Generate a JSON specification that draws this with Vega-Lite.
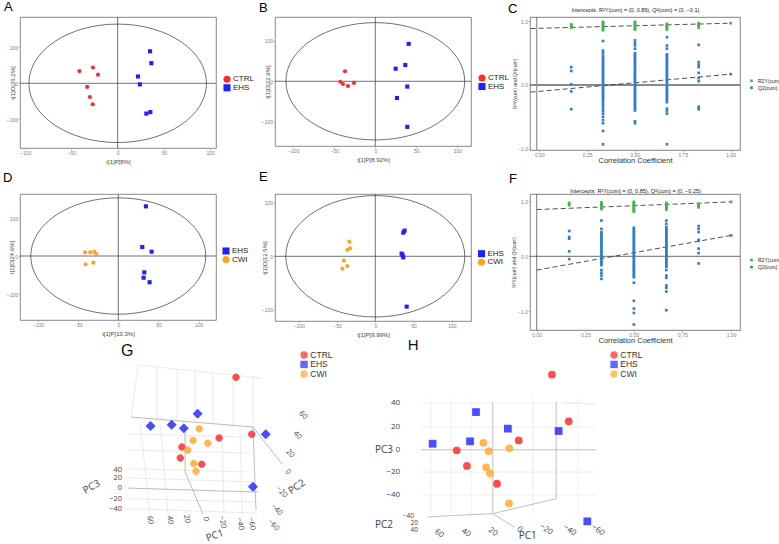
{
"$schema":"https://vega.github.io/schema/vega-lite/v6.json",
"padding":{"left":2,"top":0,"right":0,"bottom":0},
"background":"white",
"config":{"font":"Liberation Sans","view":{"stroke":null},
 "axis":{"grid":false,"domain":false,"tickSize":2,"tickWidth":0.6,"tickColor":"#999","labelFontSize":5,"labelColor":"#808080","labelPadding":0.5,"titleFontSize":6,"titleColor":"#444","titleFontWeight":"normal","labelOverlap":false},
 "legend":{"labelColor":"#222"}},
"columns":3,"align":"none","bounds":"flush","spacing":{"row":44,"column":59},
"resolve":{"scale":{"color":"independent","shape":"independent"},"legend":{"color":"independent","shape":"independent"}},
"concat":[
   {"width":196,"height":131,"view":{"stroke":"#6b6b6b","strokeWidth":0.8},
    "title":{"text":"A","anchor":"start","frame":"group","dx":-16,"offset":2.3,"fontSize":13,"fontWeight":"normal","color":"#000"},
    "layer":[
     {"data":{"values":[{"p":0}]},"mark":{"type":"rule","color":"#333","strokeWidth":0.7},"encoding":{"x":{"field":"p","type":"quantitative","title":"t[1]P[8%]","scale":{"domain":[-105.6,106.3],"nice":false,"zero":false}}}},
     {"data":{"values":[{"o":0}]},"mark":{"type":"rule","color":"#333","strokeWidth":0.7},"encoding":{"y":{"field":"o","type":"quantitative","title":"t[1]O[26.2%]","scale":{"domain":[-179.7,184.2],"nice":false,"zero":false}}}},
     {"data":{"values":[{"p":0,"o":0}]},"mark":{"type":"point","shape":"M-1,0A1,0.667,0,1,0,1,0A1,0.667,0,1,0,-1,0Z","size":31540,"filled":false,"stroke":"#333","strokeWidth":0.7,"opacity":1},"encoding":{"x":{"field":"p","type":"quantitative","title":"t[1]P[8%]"},"y":{"field":"o","type":"quantitative","title":"t[1]O[26.2%]"}}},
     {"data":{"values":[{"g":"CTRL","p":-41.4,"o":34},{"g":"CTRL","p":-26.7,"o":44},{"g":"CTRL","p":-21.3,"o":24},{"g":"CTRL","p":-33,"o":-10},{"g":"CTRL","p":-30,"o":-38},{"g":"CTRL","p":-27,"o":-58},{"g":"EHS","p":35,"o":89},{"g":"EHS","p":36.4,"o":56},{"g":"EHS","p":22,"o":19},{"g":"EHS","p":24,"o":-3},{"g":"EHS","p":31,"o":-84},{"g":"EHS","p":35.3,"o":-80}]},
      "mark":{"type":"point","filled":true,"size":17,"opacity":1},
      "encoding":{"x":{"field":"p","type":"quantitative","title":"t[1]P[8%]","axis":{"values":[-100,-50,0,50,100],"titleY":13.5,"titleBaseline":"middle"}},
       "y":{"field":"o","type":"quantitative","title":"t[1]O[26.2%]","axis":{"values":[-100,0,100],"titleX":-8,"titleBaseline":"middle"}},
       "color":{"field":"g","type":"nominal","scale":{"domain":["CTRL","EHS"],"range":["#FF2A2A","#1F1FFF"]},"legend":{"title":null,"orient":"none","legendX":203,"legendY":58.3,"symbolSize":50,"labelFontSize":8,"labelOffset":2,"rowPadding":0.5,"padding":0,"symbolStrokeWidth":0}},
       "shape":{"field":"g","type":"nominal","scale":{"domain":["CTRL","EHS"],"range":["circle","square"]}}}}
    ]},
   {"width":196,"height":129,"view":{"stroke":"#6b6b6b","strokeWidth":0.8},
    "title":{"text":"B","anchor":"start","frame":"group","dx":-16,"offset":2,"fontSize":13,"fontWeight":"normal","color":"#000"},
    "layer":[
     {"data":{"values":[{"p":0}]},"mark":{"type":"rule","color":"#333","strokeWidth":0.7},"encoding":{"x":{"field":"p","type":"quantitative","title":"t[1]P[8.92%]","scale":{"domain":[-122.3,116.7],"nice":false,"zero":false}}}},
     {"data":{"values":[{"o":0}]},"mark":{"type":"rule","color":"#333","strokeWidth":0.7},"encoding":{"y":{"field":"o","type":"quantitative","title":"t[1]O[22.9%]","scale":{"domain":[-159,158],"nice":false,"zero":false}}}},
     {"data":{"values":[{"p":0,"o":0}]},"mark":{"type":"point","shape":"M-1,0A1,0.656,0,1,0,1,0A1,0.656,0,1,0,-1,0Z","size":31970,"filled":false,"stroke":"#333","strokeWidth":0.7,"opacity":1},"encoding":{"x":{"field":"p","type":"quantitative","title":"t[1]P[8.92%]"},"y":{"field":"o","type":"quantitative","title":"t[1]O[22.9%]"}}},
     {"data":{"values":[{"g":"CTRL","p":-37,"o":24.6},{"g":"CTRL","p":-42.7,"o":-1},{"g":"CTRL","p":-39.4,"o":-6.6},{"g":"CTRL","p":-33.3,"o":-11.5},{"g":"CTRL","p":-26,"o":-4},{"g":"EHS","p":40.7,"o":92},{"g":"EHS","p":36.6,"o":40},{"g":"EHS","p":24.8,"o":31},{"g":"EHS","p":39,"o":-13},{"g":"EHS","p":26.4,"o":-41},{"g":"EHS","p":39,"o":-112}]},
      "mark":{"type":"point","filled":true,"size":17,"opacity":1},
      "encoding":{"x":{"field":"p","type":"quantitative","title":"t[1]P[8.92%]","axis":{"values":[-100,-50,0,50,100],"titleY":13.3,"titleBaseline":"middle"}},
       "y":{"field":"o","type":"quantitative","title":"t[1]O[22.9%]","axis":{"values":[-100,0,100],"titleX":-8,"titleBaseline":"middle"}},
       "color":{"field":"g","type":"nominal","scale":{"domain":["CTRL","EHS"],"range":["#FF2A2A","#1F1FFF"]},"legend":{"title":null,"orient":"none","legendX":203,"legendY":57,"symbolSize":50,"labelFontSize":8,"labelOffset":2,"rowPadding":0.5,"padding":0,"symbolStrokeWidth":0}},
       "shape":{"field":"g","type":"nominal","scale":{"domain":["CTRL","EHS"],"range":["circle","square"]}}}}
    ]},
  {"width":210,"height":133,"view":{"stroke":"#9a9a9a","strokeWidth":1.2},
   "title":{"text":"C","anchor":"start","frame":"group","dx":-22,"offset":-8.75,"fontSize":13,"fontWeight":"normal","color":"#000"},
   "resolve":{"axis":{"x":"independent"}},
   "layer":[
    {"data":{"values":[{"c":-0.013}]},"mark":{"type":"rule","color":"#555","strokeWidth":0.8},"encoding":{"x":{"field":"c","type":"quantitative","scale":{"domain":[-0.0486,1.049],"nice":false,"zero":false},"axis":null}}},
    {"data":{"values":[{"r":0}]},"mark":{"type":"rule","color":"#8a8a8a","strokeWidth":1.8},"encoding":{"y":{"field":"r","type":"quantitative","title":"R²Y(cum) and Q²(cum)","scale":{"domain":[-1.02,1.067],"nice":false,"zero":false}}}},
    {"data":{"values":[{"s":"R2Y","c":-0.045,"r":0.886},{"s":"R2Y","c":1,"r":0.97},{"s":"Q2","c":-0.045,"r":-0.112},{"s":"Q2","c":1,"r":0.17}]},
     "mark":{"type":"line","color":"#222","strokeWidth":0.8,"strokeDash":[5,3]},
     "encoding":{"x":{"field":"c","type":"quantitative","scale":{"domain":[-0.0486,1.049],"nice":false,"zero":false},"axis":{"orient":"top","labels":false,"ticks":false,"domain":false,"title":"Intercepts: R²Y(cum) = (0, 0.89), Q²(cum) = (0, −0.1)","titleY":-8,"titleBaseline":"middle","titleFontSize":5.5,"titleColor":"#222"}},
      "y":{"field":"r","type":"quantitative","title":"R²Y(cum) and Q²(cum)"},"detail":{"field":"s"}}},
    {"data":{"values":[
{"c":0.167,"r":0.90,"s":"R2Y(cum)"},{"c":0.167,"r":0.92,"s":"R2Y(cum)"},{"c":0.167,"r":0.94,"s":"R2Y(cum)"},{"c":0.167,"r":0.95,"s":"R2Y(cum)"},
{"c":0.333,"r":0.86,"s":"R2Y(cum)"},{"c":0.333,"r":0.88,"s":"R2Y(cum)"},{"c":0.333,"r":0.90,"s":"R2Y(cum)"},{"c":0.333,"r":0.92,"s":"R2Y(cum)"},{"c":0.333,"r":0.94,"s":"R2Y(cum)"},{"c":0.333,"r":0.96,"s":"R2Y(cum)"},{"c":0.333,"r":0.98,"s":"R2Y(cum)"},{"c":0.333,"r":0.99,"s":"R2Y(cum)"},
{"c":0.5,"r":0.87,"s":"R2Y(cum)"},{"c":0.5,"r":0.89,"s":"R2Y(cum)"},{"c":0.5,"r":0.91,"s":"R2Y(cum)"},{"c":0.5,"r":0.93,"s":"R2Y(cum)"},{"c":0.5,"r":0.95,"s":"R2Y(cum)"},{"c":0.5,"r":0.97,"s":"R2Y(cum)"},{"c":0.5,"r":0.99,"s":"R2Y(cum)"},
{"c":0.667,"r":0.87,"s":"R2Y(cum)"},{"c":0.667,"r":0.89,"s":"R2Y(cum)"},{"c":0.667,"r":0.91,"s":"R2Y(cum)"},{"c":0.667,"r":0.93,"s":"R2Y(cum)"},{"c":0.667,"r":0.95,"s":"R2Y(cum)"},{"c":0.667,"r":0.96,"s":"R2Y(cum)"},
{"c":0.833,"r":0.90,"s":"R2Y(cum)"},{"c":0.833,"r":0.92,"s":"R2Y(cum)"},{"c":0.833,"r":0.94,"s":"R2Y(cum)"},{"c":0.833,"r":0.96,"s":"R2Y(cum)"},{"c":0.833,"r":0.97,"s":"R2Y(cum)"},
{"c":1,"r":0.97,"s":"R2Y(cum)"},
{"c":0.167,"r":0.28,"s":"Q2(cum)"},{"c":0.167,"r":0.22,"s":"Q2(cum)"},{"c":0.167,"r":0.01,"s":"Q2(cum)"},{"c":0.167,"r":-0.10,"s":"Q2(cum)"},{"c":0.167,"r":-0.38,"s":"Q2(cum)"},
{"c":0.333,"r":0.69,"s":"Q2(cum)"},{"c":0.333,"r":0.54,"s":"Q2(cum)"},{"c":0.333,"r":0.50,"s":"Q2(cum)"},{"c":0.333,"r":0.46,"s":"Q2(cum)"},{"c":0.333,"r":0.43,"s":"Q2(cum)"},{"c":0.333,"r":0.40,"s":"Q2(cum)"},{"c":0.333,"r":0.37,"s":"Q2(cum)"},{"c":0.333,"r":0.34,"s":"Q2(cum)"},{"c":0.333,"r":0.31,"s":"Q2(cum)"},{"c":0.333,"r":0.28,"s":"Q2(cum)"},{"c":0.333,"r":0.25,"s":"Q2(cum)"},{"c":0.333,"r":0.22,"s":"Q2(cum)"},{"c":0.333,"r":0.19,"s":"Q2(cum)"},{"c":0.333,"r":0.16,"s":"Q2(cum)"},{"c":0.333,"r":0.13,"s":"Q2(cum)"},{"c":0.333,"r":0.10,"s":"Q2(cum)"},{"c":0.333,"r":0.07,"s":"Q2(cum)"},{"c":0.333,"r":0.04,"s":"Q2(cum)"},{"c":0.333,"r":0.01,"s":"Q2(cum)"},{"c":0.333,"r":-0.02,"s":"Q2(cum)"},{"c":0.333,"r":-0.05,"s":"Q2(cum)"},{"c":0.333,"r":-0.08,"s":"Q2(cum)"},{"c":0.333,"r":-0.11,"s":"Q2(cum)"},{"c":0.333,"r":-0.14,"s":"Q2(cum)"},{"c":0.333,"r":-0.17,"s":"Q2(cum)"},{"c":0.333,"r":-0.20,"s":"Q2(cum)"},{"c":0.333,"r":-0.23,"s":"Q2(cum)"},{"c":0.333,"r":-0.26,"s":"Q2(cum)"},{"c":0.333,"r":-0.30,"s":"Q2(cum)"},{"c":0.333,"r":-0.33,"s":"Q2(cum)"},{"c":0.333,"r":-0.37,"s":"Q2(cum)"},{"c":0.333,"r":-0.41,"s":"Q2(cum)"},{"c":0.333,"r":-0.45,"s":"Q2(cum)"},{"c":0.333,"r":-0.50,"s":"Q2(cum)"},{"c":0.333,"r":-0.55,"s":"Q2(cum)"},{"c":0.333,"r":-0.60,"s":"Q2(cum)"},{"c":0.333,"r":-0.72,"s":"Q2(cum)"},{"c":0.333,"r":-0.93,"s":"Q2(cum)"},
{"c":0.5,"r":0.70,"s":"Q2(cum)"},{"c":0.5,"r":0.66,"s":"Q2(cum)"},{"c":0.5,"r":0.62,"s":"Q2(cum)"},{"c":0.5,"r":0.57,"s":"Q2(cum)"},{"c":0.5,"r":0.50,"s":"Q2(cum)"},{"c":0.5,"r":0.47,"s":"Q2(cum)"},{"c":0.5,"r":0.44,"s":"Q2(cum)"},{"c":0.5,"r":0.41,"s":"Q2(cum)"},{"c":0.5,"r":0.38,"s":"Q2(cum)"},{"c":0.5,"r":0.35,"s":"Q2(cum)"},{"c":0.5,"r":0.32,"s":"Q2(cum)"},{"c":0.5,"r":0.29,"s":"Q2(cum)"},{"c":0.5,"r":0.26,"s":"Q2(cum)"},{"c":0.5,"r":0.23,"s":"Q2(cum)"},{"c":0.5,"r":0.20,"s":"Q2(cum)"},{"c":0.5,"r":0.17,"s":"Q2(cum)"},{"c":0.5,"r":0.14,"s":"Q2(cum)"},{"c":0.5,"r":0.11,"s":"Q2(cum)"},{"c":0.5,"r":0.08,"s":"Q2(cum)"},{"c":0.5,"r":0.05,"s":"Q2(cum)"},{"c":0.5,"r":0.02,"s":"Q2(cum)"},{"c":0.5,"r":-0.01,"s":"Q2(cum)"},{"c":0.5,"r":-0.04,"s":"Q2(cum)"},{"c":0.5,"r":-0.07,"s":"Q2(cum)"},{"c":0.5,"r":-0.10,"s":"Q2(cum)"},{"c":0.5,"r":-0.13,"s":"Q2(cum)"},{"c":0.5,"r":-0.16,"s":"Q2(cum)"},{"c":0.5,"r":-0.19,"s":"Q2(cum)"},{"c":0.5,"r":-0.22,"s":"Q2(cum)"},{"c":0.5,"r":-0.25,"s":"Q2(cum)"},{"c":0.5,"r":-0.28,"s":"Q2(cum)"},{"c":0.5,"r":-0.31,"s":"Q2(cum)"},{"c":0.5,"r":-0.34,"s":"Q2(cum)"},{"c":0.5,"r":-0.37,"s":"Q2(cum)"},{"c":0.5,"r":-0.40,"s":"Q2(cum)"},{"c":0.5,"r":-0.57,"s":"Q2(cum)"},{"c":0.5,"r":-0.60,"s":"Q2(cum)"},
{"c":0.667,"r":0.75,"s":"Q2(cum)"},{"c":0.667,"r":0.62,"s":"Q2(cum)"},{"c":0.667,"r":0.57,"s":"Q2(cum)"},{"c":0.667,"r":0.48,"s":"Q2(cum)"},{"c":0.667,"r":0.45,"s":"Q2(cum)"},{"c":0.667,"r":0.42,"s":"Q2(cum)"},{"c":0.667,"r":0.39,"s":"Q2(cum)"},{"c":0.667,"r":0.36,"s":"Q2(cum)"},{"c":0.667,"r":0.33,"s":"Q2(cum)"},{"c":0.667,"r":0.30,"s":"Q2(cum)"},{"c":0.667,"r":0.27,"s":"Q2(cum)"},{"c":0.667,"r":0.24,"s":"Q2(cum)"},{"c":0.667,"r":0.21,"s":"Q2(cum)"},{"c":0.667,"r":0.18,"s":"Q2(cum)"},{"c":0.667,"r":0.15,"s":"Q2(cum)"},{"c":0.667,"r":0.12,"s":"Q2(cum)"},{"c":0.667,"r":0.09,"s":"Q2(cum)"},{"c":0.667,"r":0.06,"s":"Q2(cum)"},{"c":0.667,"r":0.03,"s":"Q2(cum)"},{"c":0.667,"r":-0.02,"s":"Q2(cum)"},{"c":0.667,"r":-0.05,"s":"Q2(cum)"},{"c":0.667,"r":-0.08,"s":"Q2(cum)"},{"c":0.667,"r":-0.11,"s":"Q2(cum)"},{"c":0.667,"r":-0.14,"s":"Q2(cum)"},{"c":0.667,"r":-0.17,"s":"Q2(cum)"},{"c":0.667,"r":-0.20,"s":"Q2(cum)"},{"c":0.667,"r":-0.23,"s":"Q2(cum)"},{"c":0.667,"r":-0.27,"s":"Q2(cum)"},{"c":0.667,"r":-0.37,"s":"Q2(cum)"},{"c":0.667,"r":-0.41,"s":"Q2(cum)"},{"c":0.667,"r":-0.45,"s":"Q2(cum)"},{"c":0.667,"r":-0.93,"s":"Q2(cum)"},
{"c":0.833,"r":0.63,"s":"Q2(cum)"},{"c":0.833,"r":0.36,"s":"Q2(cum)"},{"c":0.833,"r":0.32,"s":"Q2(cum)"},{"c":0.833,"r":0.28,"s":"Q2(cum)"},{"c":0.833,"r":0.19,"s":"Q2(cum)"},{"c":0.833,"r":0.11,"s":"Q2(cum)"},{"c":0.833,"r":0.06,"s":"Q2(cum)"},{"c":0.833,"r":-0.34,"s":"Q2(cum)"},{"c":0.833,"r":-0.38,"s":"Q2(cum)"},
{"c":1,"r":0.17,"s":"Q2(cum)"}]},
     "mark":{"type":"point","filled":true,"shape":"square","size":7,"opacity":1},
     "encoding":{"x":{"field":"c","type":"quantitative","scale":{"domain":[-0.0486,1.049],"nice":false,"zero":false},"axis":{"values":[0,0.25,0.5,0.75,1],"format":".2f","title":"Correlation Coefficient","titleFontSize":7.5,"titleColor":"#333","titleY":10.6,"titleBaseline":"middle"}},
      "y":{"field":"r","type":"quantitative","title":"R²Y(cum) and Q²(cum)","axis":{"values":[-1,-0.5,0,0.5,1],"format":".1f","titleX":-15.5,"titleBaseline":"middle","titleFontSize":5}},
      "color":{"field":"s","type":"nominal","scale":{"domain":["R2Y(cum)","Q2(cum)"],"range":["#45B649","#2E7EC8"]},"legend":{"title":null,"orient":"none","legendX":219,"legendY":61.3,"symbolSize":7,"labelFontSize":5,"labelOffset":4,"rowPadding":1,"padding":0,"symbolStrokeWidth":0}}}}
   ]},
   {"width":196,"height":126,"view":{"stroke":"#6b6b6b","strokeWidth":0.8},
    "title":{"text":"D","anchor":"start","frame":"group","dx":-17,"offset":9,"fontSize":13,"fontWeight":"normal","color":"#000"},
    "layer":[
     {"data":{"values":[{"p":0}]},"mark":{"type":"rule","color":"#333","strokeWidth":0.7},"encoding":{"x":{"field":"p","type":"quantitative","title":"t[1]P[10.3%]","scale":{"domain":[-122.4,121.7],"nice":false,"zero":false}}}},
     {"data":{"values":[{"o":0}]},"mark":{"type":"rule","color":"#333","strokeWidth":0.7},"encoding":{"y":{"field":"o","type":"quantitative","title":"t[1]O[24.6%]","scale":{"domain":[-168.4,163.2],"nice":false,"zero":false}}}},
     {"data":{"values":[{"p":0,"o":0}]},"mark":{"type":"point","shape":"M-1,0A1,0.665,0,1,0,1,0A1,0.665,0,1,0,-1,0Z","size":30625,"filled":false,"stroke":"#333","strokeWidth":0.7,"opacity":1},"encoding":{"x":{"field":"p","type":"quantitative","title":"t[1]P[10.3%]"},"y":{"field":"o","type":"quantitative","title":"t[1]O[24.6%]"}}},
     {"data":{"values":[{"g":"CWI","p":-41.5,"o":9.6},{"g":"CWI","p":-34.9,"o":9.6},{"g":"CWI","p":-29.9,"o":11.4},{"g":"CWI","p":-27.4,"o":5.3},{"g":"CWI","p":-40.7,"o":-22},{"g":"CWI","p":-31,"o":-17.5},{"g":"EHS","p":34.4,"o":130.7},{"g":"EHS","p":29.9,"o":23.7},{"g":"EHS","p":41.5,"o":11.4},{"g":"EHS","p":32.4,"o":-43},{"g":"EHS","p":31.5,"o":-57},{"g":"EHS","p":39,"o":-69}]},
      "mark":{"type":"point","filled":true,"size":17,"opacity":1},
      "encoding":{"x":{"field":"p","type":"quantitative","title":"t[1]P[10.3%]","axis":{"values":[-100,-50,0,50,100],"titleY":13.7,"titleBaseline":"middle"}},
       "y":{"field":"o","type":"quantitative","title":"t[1]O[24.6%]","axis":{"values":[-100,0,100],"titleX":-9,"titleBaseline":"middle"}},
       "color":{"field":"g","type":"nominal","scale":{"domain":["EHS","CWI"],"range":["#1F1FFF","#FFA31F"]},"legend":{"title":null,"orient":"none","legendX":202,"legendY":53,"symbolSize":50,"labelFontSize":8,"labelOffset":2,"rowPadding":0.5,"padding":0,"symbolStrokeWidth":0}},
       "shape":{"field":"g","type":"nominal","scale":{"domain":["EHS","CWI"],"range":["square","circle"]}}}}
    ]},
   {"width":196,"height":127,"view":{"stroke":"#6b6b6b","strokeWidth":0.8},
    "title":{"text":"E","anchor":"start","frame":"group","dx":-16,"offset":10,"fontSize":13,"fontWeight":"normal","color":"#000"},
    "layer":[
     {"data":{"values":[{"p":0}]},"mark":{"type":"rule","color":"#333","strokeWidth":0.7},"encoding":{"x":{"field":"p","type":"quantitative","title":"t[1]P[9.99%]","scale":{"domain":[-131.1,125.1],"nice":false,"zero":false}}}},
     {"data":{"values":[{"o":0}]},"mark":{"type":"rule","color":"#333","strokeWidth":0.7},"encoding":{"y":{"field":"o","type":"quantitative","title":"t[1]O[12.5%]","scale":{"domain":[-120.5,116],"nice":false,"zero":false}}}},
     {"data":{"values":[{"p":0,"o":0}]},"mark":{"type":"point","shape":"M-1,0A1,0.678,0,1,0,1,0A1,0.678,0,1,0,-1,0Z","size":32040,"filled":false,"stroke":"#333","strokeWidth":0.7,"opacity":1},"encoding":{"x":{"field":"p","type":"quantitative","title":"t[1]P[9.99%]"},"y":{"field":"o","type":"quantitative","title":"t[1]O[12.5%]"}}},
     {"data":{"values":[{"g":"CWI","p":-34,"o":27.3},{"g":"CWI","p":-33,"o":14.9},{"g":"CWI","p":-36.6,"o":11.8},{"g":"CWI","p":-41,"o":-8},{"g":"CWI","p":-36.6,"o":-18},{"g":"CWI","p":-43,"o":-23},{"g":"EHS","p":38.3,"o":47.8},{"g":"EHS","p":36.6,"o":44},{"g":"EHS","p":34.4,"o":5},{"g":"EHS","p":35.7,"o":1.9},{"g":"EHS","p":36.6,"o":-1.9},{"g":"EHS","p":41,"o":-93.8}]},
      "mark":{"type":"point","filled":true,"size":17,"opacity":1},
      "encoding":{"x":{"field":"p","type":"quantitative","title":"t[1]P[9.99%]","axis":{"values":[-100,-50,0,50,100],"titleY":13.3,"titleBaseline":"middle"}},
       "y":{"field":"o","type":"quantitative","title":"t[1]O[12.5%]","axis":{"values":[-100,-50,0,50,100],"titleX":-11,"titleBaseline":"middle"}},
       "color":{"field":"g","type":"nominal","scale":{"domain":["EHS","CWI"],"range":["#1F1FFF","#FFA31F"]},"legend":{"title":null,"orient":"none","legendX":202.5,"legendY":55.7,"symbolSize":50,"labelFontSize":8,"labelOffset":2,"rowPadding":0.5,"padding":0,"symbolStrokeWidth":0}},
       "shape":{"field":"g","type":"nominal","scale":{"domain":["EHS","CWI"],"range":["square","circle"]}}}}
    ]},
  {"width":210,"height":136,"view":{"stroke":"#9a9a9a","strokeWidth":1.2},
   "title":{"text":"F","anchor":"start","frame":"group","dx":-21,"offset":2.5,"fontSize":13,"fontWeight":"normal","color":"#000"},
   "resolve":{"axis":{"x":"independent"}},
   "layer":[
    {"data":{"values":[{"c":0}]},"mark":{"type":"rule","color":"#555","strokeWidth":0.8},"encoding":{"x":{"field":"c","type":"quantitative","scale":{"domain":[-0.0345,1.046],"nice":false,"zero":false},"axis":null}}},
    {"data":{"values":[{"r":0}]},"mark":{"type":"rule","color":"#444","strokeWidth":0.8},"encoding":{"y":{"field":"r","type":"quantitative","title":"R²Y(cum) and Q²(cum)","scale":{"domain":[-1.34,1.133],"nice":false,"zero":false}}}},
    {"data":{"values":[{"s":"R2Y","c":0,"r":0.85},{"s":"R2Y","c":1,"r":0.99},{"s":"Q2","c":0,"r":-0.25},{"s":"Q2","c":1,"r":0.38}]},
     "mark":{"type":"line","color":"#222","strokeWidth":0.8,"strokeDash":[5,3]},
     "encoding":{"x":{"field":"c","type":"quantitative","scale":{"domain":[-0.0345,1.046],"nice":false,"zero":false},"axis":{"orient":"top","labels":false,"ticks":false,"domain":false,"title":"Intercepts: R²Y(cum) = (0, 0.85), Q²(cum) = (0, −0.25)","titleY":-3.7,"titleBaseline":"middle","titleFontSize":5.5,"titleColor":"#222"}},
      "y":{"field":"r","type":"quantitative","title":"R²Y(cum) and Q²(cum)"},"detail":{"field":"s"}}},
    {"data":{"values":[
{"c":0.167,"r":0.93,"s":"R2Y(cum)"},{"c":0.167,"r":0.95,"s":"R2Y(cum)"},{"c":0.167,"r":0.97,"s":"R2Y(cum)"},
{"c":0.333,"r":0.86,"s":"R2Y(cum)"},{"c":0.333,"r":0.88,"s":"R2Y(cum)"},{"c":0.333,"r":0.90,"s":"R2Y(cum)"},{"c":0.333,"r":0.92,"s":"R2Y(cum)"},{"c":0.333,"r":0.94,"s":"R2Y(cum)"},{"c":0.333,"r":0.96,"s":"R2Y(cum)"},{"c":0.333,"r":0.98,"s":"R2Y(cum)"},
{"c":0.5,"r":0.81,"s":"R2Y(cum)"},{"c":0.5,"r":0.83,"s":"R2Y(cum)"},{"c":0.5,"r":0.85,"s":"R2Y(cum)"},{"c":0.5,"r":0.87,"s":"R2Y(cum)"},{"c":0.5,"r":0.89,"s":"R2Y(cum)"},{"c":0.5,"r":0.91,"s":"R2Y(cum)"},{"c":0.5,"r":0.93,"s":"R2Y(cum)"},{"c":0.5,"r":0.95,"s":"R2Y(cum)"},{"c":0.5,"r":0.97,"s":"R2Y(cum)"},{"c":0.5,"r":0.99,"s":"R2Y(cum)"},
{"c":0.667,"r":0.85,"s":"R2Y(cum)"},{"c":0.667,"r":0.87,"s":"R2Y(cum)"},{"c":0.667,"r":0.89,"s":"R2Y(cum)"},{"c":0.667,"r":0.91,"s":"R2Y(cum)"},{"c":0.667,"r":0.93,"s":"R2Y(cum)"},{"c":0.667,"r":0.95,"s":"R2Y(cum)"},{"c":0.667,"r":0.97,"s":"R2Y(cum)"},
{"c":0.833,"r":0.89,"s":"R2Y(cum)"},{"c":0.833,"r":0.91,"s":"R2Y(cum)"},{"c":0.833,"r":0.93,"s":"R2Y(cum)"},{"c":0.833,"r":0.95,"s":"R2Y(cum)"},
{"c":1,"r":0.99,"s":"R2Y(cum)"},
{"c":0.167,"r":0.46,"s":"Q2(cum)"},{"c":0.167,"r":0.35,"s":"Q2(cum)"},{"c":0.167,"r":0.32,"s":"Q2(cum)"},{"c":0.167,"r":0.09,"s":"Q2(cum)"},{"c":0.167,"r":-0.05,"s":"Q2(cum)"},
{"c":0.333,"r":0.65,"s":"Q2(cum)"},{"c":0.333,"r":0.50,"s":"Q2(cum)"},{"c":0.333,"r":0.44,"s":"Q2(cum)"},{"c":0.333,"r":0.41,"s":"Q2(cum)"},{"c":0.333,"r":0.38,"s":"Q2(cum)"},{"c":0.333,"r":0.35,"s":"Q2(cum)"},{"c":0.333,"r":0.32,"s":"Q2(cum)"},{"c":0.333,"r":0.29,"s":"Q2(cum)"},{"c":0.333,"r":0.26,"s":"Q2(cum)"},{"c":0.333,"r":0.23,"s":"Q2(cum)"},{"c":0.333,"r":0.20,"s":"Q2(cum)"},{"c":0.333,"r":0.17,"s":"Q2(cum)"},{"c":0.333,"r":0.14,"s":"Q2(cum)"},{"c":0.333,"r":0.11,"s":"Q2(cum)"},{"c":0.333,"r":0.08,"s":"Q2(cum)"},{"c":0.333,"r":0.05,"s":"Q2(cum)"},{"c":0.333,"r":0.02,"s":"Q2(cum)"},{"c":0.333,"r":-0.01,"s":"Q2(cum)"},{"c":0.333,"r":-0.04,"s":"Q2(cum)"},{"c":0.333,"r":-0.07,"s":"Q2(cum)"},{"c":0.333,"r":-0.10,"s":"Q2(cum)"},{"c":0.333,"r":-0.13,"s":"Q2(cum)"},{"c":0.333,"r":-0.16,"s":"Q2(cum)"},{"c":0.333,"r":-0.25,"s":"Q2(cum)"},{"c":0.333,"r":-0.30,"s":"Q2(cum)"},{"c":0.333,"r":-0.35,"s":"Q2(cum)"},{"c":0.333,"r":-0.41,"s":"Q2(cum)"},
{"c":0.5,"r":0.52,"s":"Q2(cum)"},{"c":0.5,"r":0.49,"s":"Q2(cum)"},{"c":0.5,"r":0.46,"s":"Q2(cum)"},{"c":0.5,"r":0.43,"s":"Q2(cum)"},{"c":0.5,"r":0.40,"s":"Q2(cum)"},{"c":0.5,"r":0.37,"s":"Q2(cum)"},{"c":0.5,"r":0.34,"s":"Q2(cum)"},{"c":0.5,"r":0.31,"s":"Q2(cum)"},{"c":0.5,"r":0.28,"s":"Q2(cum)"},{"c":0.5,"r":0.25,"s":"Q2(cum)"},{"c":0.5,"r":0.22,"s":"Q2(cum)"},{"c":0.5,"r":0.19,"s":"Q2(cum)"},{"c":0.5,"r":0.16,"s":"Q2(cum)"},{"c":0.5,"r":0.13,"s":"Q2(cum)"},{"c":0.5,"r":0.10,"s":"Q2(cum)"},{"c":0.5,"r":0.07,"s":"Q2(cum)"},{"c":0.5,"r":0.04,"s":"Q2(cum)"},{"c":0.5,"r":0.01,"s":"Q2(cum)"},{"c":0.5,"r":-0.02,"s":"Q2(cum)"},{"c":0.5,"r":-0.05,"s":"Q2(cum)"},{"c":0.5,"r":-0.08,"s":"Q2(cum)"},{"c":0.5,"r":-0.11,"s":"Q2(cum)"},{"c":0.5,"r":-0.14,"s":"Q2(cum)"},{"c":0.5,"r":-0.17,"s":"Q2(cum)"},{"c":0.5,"r":-0.20,"s":"Q2(cum)"},{"c":0.5,"r":-0.23,"s":"Q2(cum)"},{"c":0.5,"r":-0.26,"s":"Q2(cum)"},{"c":0.5,"r":-0.29,"s":"Q2(cum)"},{"c":0.5,"r":-0.32,"s":"Q2(cum)"},{"c":0.5,"r":-0.35,"s":"Q2(cum)"},{"c":0.5,"r":-0.38,"s":"Q2(cum)"},{"c":0.5,"r":-0.48,"s":"Q2(cum)"},{"c":0.5,"r":-0.81,"s":"Q2(cum)"},{"c":0.5,"r":-0.95,"s":"Q2(cum)"},{"c":0.5,"r":-1.03,"s":"Q2(cum)"},{"c":0.5,"r":-1.24,"s":"Q2(cum)"},
{"c":0.667,"r":0.65,"s":"Q2(cum)"},{"c":0.667,"r":0.59,"s":"Q2(cum)"},{"c":0.667,"r":0.53,"s":"Q2(cum)"},{"c":0.667,"r":0.50,"s":"Q2(cum)"},{"c":0.667,"r":0.47,"s":"Q2(cum)"},{"c":0.667,"r":0.44,"s":"Q2(cum)"},{"c":0.667,"r":0.41,"s":"Q2(cum)"},{"c":0.667,"r":0.38,"s":"Q2(cum)"},{"c":0.667,"r":0.35,"s":"Q2(cum)"},{"c":0.667,"r":0.32,"s":"Q2(cum)"},{"c":0.667,"r":0.29,"s":"Q2(cum)"},{"c":0.667,"r":0.26,"s":"Q2(cum)"},{"c":0.667,"r":0.23,"s":"Q2(cum)"},{"c":0.667,"r":0.20,"s":"Q2(cum)"},{"c":0.667,"r":0.17,"s":"Q2(cum)"},{"c":0.667,"r":0.14,"s":"Q2(cum)"},{"c":0.667,"r":0.11,"s":"Q2(cum)"},{"c":0.667,"r":0.08,"s":"Q2(cum)"},{"c":0.667,"r":0.05,"s":"Q2(cum)"},{"c":0.667,"r":0.02,"s":"Q2(cum)"},{"c":0.667,"r":-0.01,"s":"Q2(cum)"},{"c":0.667,"r":-0.04,"s":"Q2(cum)"},{"c":0.667,"r":-0.07,"s":"Q2(cum)"},{"c":0.667,"r":-0.10,"s":"Q2(cum)"},{"c":0.667,"r":-0.13,"s":"Q2(cum)"},{"c":0.667,"r":-0.16,"s":"Q2(cum)"},{"c":0.667,"r":-0.19,"s":"Q2(cum)"},{"c":0.667,"r":-0.25,"s":"Q2(cum)"},{"c":0.667,"r":-0.35,"s":"Q2(cum)"},{"c":0.667,"r":-0.39,"s":"Q2(cum)"},{"c":0.667,"r":-0.53,"s":"Q2(cum)"},{"c":0.667,"r":-0.57,"s":"Q2(cum)"},{"c":0.667,"r":-0.64,"s":"Q2(cum)"},{"c":0.667,"r":-0.98,"s":"Q2(cum)"},
{"c":0.833,"r":0.55,"s":"Q2(cum)"},{"c":0.833,"r":0.50,"s":"Q2(cum)"},{"c":0.833,"r":0.44,"s":"Q2(cum)"},{"c":0.833,"r":0.30,"s":"Q2(cum)"},{"c":0.833,"r":0.28,"s":"Q2(cum)"},{"c":0.833,"r":0.14,"s":"Q2(cum)"},{"c":0.833,"r":0.06,"s":"Q2(cum)"},{"c":0.833,"r":-0.13,"s":"Q2(cum)"},
{"c":1,"r":0.38,"s":"Q2(cum)"}]},
     "mark":{"type":"point","filled":true,"shape":"square","size":7,"opacity":1},
     "encoding":{"x":{"field":"c","type":"quantitative","scale":{"domain":[-0.0345,1.046],"nice":false,"zero":false},"axis":{"values":[0,0.25,0.5,0.75,1],"format":".2f","title":"Correlation Coefficient","titleFontSize":7.5,"titleColor":"#333","titleY":10.8,"titleBaseline":"middle"}},
      "y":{"field":"r","type":"quantitative","title":"R²Y(cum) and Q²(cum)","axis":{"values":[-1,-0.5,0,0.5,1],"format":".1f","titleX":-16.5,"titleBaseline":"middle","titleFontSize":5}},
      "color":{"field":"s","type":"nominal","scale":{"domain":["R2Y(cum)","Q2(cum)"],"range":["#45B649","#2E7EC8"]},"legend":{"title":null,"orient":"none","legendX":219,"legendY":63.6,"symbolSize":7,"labelFontSize":5,"labelOffset":4,"rowPadding":1,"padding":0,"symbolStrokeWidth":0}}}}
   ]},
 {"width":196,"height":172,"view":{"stroke":null},
  "title":{"text":"G","anchor":"start","frame":"group","dx":101,"offset":-8.3,"fontSize":16,"fontWeight":"normal","color":"#111"},
  "layer":[
   {"data":{"values":[
{"id":"t","k":0,"u":36.9,"v":98.4},{"id":"t","k":1,"u":75.6,"v":91.3},
{"id":"l","k":0,"u":36.9,"v":98.4},{"id":"l","k":1,"u":34.7,"v":70.1},
{"id":"w1","k":0,"u":42.8,"v":97.3},{"id":"w1","k":1,"u":42.8,"v":69.0},
{"id":"w2","k":0,"u":49.1,"v":96.2},{"id":"w2","k":1,"u":49.1,"v":68.5},
{"id":"w3","k":0,"u":54.7,"v":95.7},{"id":"w3","k":1,"u":54.7,"v":67.4},
{"id":"w4","k":0,"u":60.3,"v":94.6},{"id":"w4","k":1,"u":60.3,"v":66.8},
{"id":"w5","k":0,"u":66.6,"v":93.5},{"id":"w5","k":1,"u":66.6,"v":65.8},
{"id":"w6","k":0,"u":72.8,"v":92.4},{"id":"w6","k":1,"u":72.8,"v":64.7},
{"id":"h1","k":0,"u":33.75,"v":61.0},{"id":"h1","k":1,"u":71.9,"v":59.2},
{"id":"h2","k":0,"u":33.75,"v":52.2},{"id":"h2","k":1,"u":72.2,"v":50.5},
{"id":"h3","k":0,"u":33.75,"v":42.0},{"id":"h3","k":1,"u":72.5,"v":40.2},
{"id":"h4","k":0,"u":33.75,"v":37.0},{"id":"h4","k":1,"u":72.8,"v":34.8},
{"id":"h5","k":0,"u":33.75,"v":25.7},{"id":"h5","k":1,"u":73.75,"v":23.9},
{"id":"h6","k":0,"u":33.75,"v":20.3},{"id":"h6","k":1,"u":74.1,"v":17.9},
{"id":"v1","k":0,"u":37.5,"v":67.4},{"id":"v1","k":1,"u":40.6,"v":17.4},
{"id":"v2","k":0,"u":43.75,"v":66.8},{"id":"v2","k":1,"u":46.25,"v":17.4},
{"id":"v3","k":0,"u":63.1,"v":65.2},{"id":"v3","k":1,"u":63.75,"v":16.3},
{"id":"v4","k":0,"u":68.75,"v":64.7},{"id":"v4","k":1,"u":69.4,"v":15.8}]},
    "mark":{"type":"line","color":"#e3e3e3","strokeWidth":0.7},
    "encoding":{"x":{"field":"u","type":"quantitative","scale":{"domain":[0,61.25],"nice":false,"zero":false},"axis":null},"y":{"field":"v","type":"quantitative","scale":{"domain":[0,93.5],"nice":false,"zero":false},"axis":null},"detail":{"field":"id"},"order":{"field":"k"}}},
   {"data":{"values":[
{"id":"a1","k":0,"u":34.7,"v":70.1},{"id":"a1","k":1,"u":72.8,"v":64.7},
{"id":"a2","k":0,"u":72.8,"v":64.7},{"id":"a2","k":1,"u":81.9,"v":44.6},
{"id":"a3","k":0,"u":51.6,"v":64.7},{"id":"a3","k":1,"u":51.6,"v":40.2},{"id":"a3","k":2,"u":57.2,"v":17.4},
{"id":"a4","k":0,"u":33.75,"v":31.5},{"id":"a4","k":1,"u":74.4,"v":29.3},
{"id":"a5","k":0,"u":72.8,"v":64.7},{"id":"a5","k":1,"u":73.75,"v":19.6}]},
    "mark":{"type":"line","color":"#b3b3b3","strokeWidth":0.9},
    "encoding":{"x":{"field":"u","type":"quantitative","axis":null},"y":{"field":"v","type":"quantitative","axis":null},"detail":{"field":"id"},"order":{"field":"k"}}},
   {"data":{"values":[{"t":"40","u":31.9,"v":41.5},{"t":"20","u":31.9,"v":37.0},{"t":"0","u":31.9,"v":31.7},{"t":"−20","u":31.9,"v":25.7},{"t":"−40","u":31.9,"v":20.3}]},
    "mark":{"type":"text","align":"right","baseline":"middle","fontSize":7.5,"font":"Open Sans","color":"#444"},
    "encoding":{"x":{"field":"u","type":"quantitative","axis":null},"y":{"field":"v","type":"quantitative","axis":null},"text":{"field":"t"}}},
   {"data":{"values":[{"t":"60","u":40.6,"v":14.0},{"t":"40","u":46.9,"v":14.1},{"t":"20","u":52.1,"v":14.8},{"t":"0","u":58.1,"v":14.7},{"t":"−20","u":63.2,"v":13.0},{"t":"−40","u":68.8,"v":12.1},{"t":"−60","u":72.4,"v":12.1}]},
    "mark":{"type":"text","align":"center","baseline":"middle","fontSize":7.5,"font":"Open Sans","color":"#444","angle":80},
    "encoding":{"x":{"field":"u","type":"quantitative","axis":null},"y":{"field":"v","type":"quantitative","axis":null},"text":{"field":"t"}}},
   {"data":{"values":[{"t":"60","u":88.5,"v":71.0},{"t":"40","u":86.7,"v":60.2},{"t":"20","u":84.4,"v":50.2},{"t":"0","u":83.7,"v":40.2},{"t":"−20","u":81.8,"v":29.3},{"t":"−40","u":80.2,"v":19.6},{"t":"−60","u":79.2,"v":11.3}]},
    "mark":{"type":"text","align":"center","baseline":"middle","fontSize":7.5,"font":"Open Sans","color":"#444","angle":45},
    "encoding":{"x":{"field":"u","type":"quantitative","axis":null},"y":{"field":"v","type":"quantitative","axis":null},"text":{"field":"t"}}},
   {"data":{"values":[{"t":"PC3","u":22.4,"v":32.1}]},
    "mark":{"type":"text","align":"center","baseline":"middle","fontSize":10,"font":"Open Sans","color":"#444","angle":-30},
    "encoding":{"x":{"field":"u","type":"quantitative","axis":null},"y":{"field":"v","type":"quantitative","axis":null},"text":{"field":"t"}}},
   {"data":{"values":[{"t":"PC1","u":60.9,"v":5.6}]},
    "mark":{"type":"text","align":"center","baseline":"middle","fontSize":10,"font":"Open Sans","color":"#444","angle":-20},
    "encoding":{"x":{"field":"u","type":"quantitative","axis":null},"y":{"field":"v","type":"quantitative","axis":null},"text":{"field":"t"}}},
   {"data":{"values":[{"t":"PC2","u":86.5,"v":32.1}]},
    "mark":{"type":"text","align":"center","baseline":"middle","fontSize":10,"font":"Open Sans","color":"#444","angle":-35},
    "encoding":{"x":{"field":"u","type":"quantitative","axis":null},"y":{"field":"v","type":"quantitative","axis":null},"text":{"field":"t"}}},
   {"data":{"values":[
{"g":"EHS","u":40.8,"v":65.2},{"g":"EHS","u":47.4,"v":65.9},{"g":"EHS","u":51.2,"v":64.0},{"g":"EHS","u":55.5,"v":71.9},{"g":"EHS","u":76.8,"v":60.7},{"g":"EHS","u":72.8,"v":32.2},
{"g":"CTRL","u":67.5,"v":91.8},{"g":"CTRL","u":62.2,"v":58.7},{"g":"CTRL","u":72.4,"v":60.7},{"g":"CTRL","u":50.6,"v":53.8},{"g":"CTRL","u":50.1,"v":47.8},{"g":"CTRL","u":56.8,"v":44.4},
{"g":"CWI","u":56.0,"v":63.8},{"g":"CWI","u":54.1,"v":57.4},{"g":"CWI","u":58.7,"v":55.8},{"g":"CWI","u":52.4,"v":52.2},{"g":"CWI","u":54.3,"v":44.9},{"g":"CWI","u":55.0,"v":40.6}]},
    "mark":{"type":"point","filled":true,"size":50,"opacity":0.85,"angle":45},
    "encoding":{"x":{"field":"u","type":"quantitative","axis":null},"y":{"field":"v","type":"quantitative","axis":null},
     "color":{"field":"g","type":"nominal","scale":{"domain":["CTRL","EHS","CWI"],"range":["#FF2E2E","#2B2BFF","#FFAA33"]},"legend":{"title":null,"orient":"none","legendX":279.8,"legendY":-23.3,"symbolSize":55,"labelFontSize":8.5,"labelColor":"#333","labelOffset":2,"rowPadding":0.5,"padding":0,"symbolOpacity":1,"symbolStrokeWidth":0}},
     "shape":{"field":"g","type":"nominal","scale":{"domain":["CTRL","EHS","CWI"],"range":["circle","square","circle"]}}}}
  ]},
 {"width":196,"height":172,"view":{"stroke":null},
  "title":{"text":"H","anchor":"start","frame":"group","dx":132.7,"offset":-2.3,"fontSize":15,"fontWeight":"normal","color":"#111"},
  "layer":[
   {"data":{"values":[
{"id":"h1","k":0,"u":14.3,"v":77.7},{"id":"h1","k":1,"u":64.3,"v":77.7},
{"id":"h2","k":0,"u":14.3,"v":64.7},{"id":"h2","k":1,"u":64.3,"v":64.7},
{"id":"h3","k":0,"u":14.3,"v":40.2},{"id":"h3","k":1,"u":64.3,"v":40.2},
{"id":"h4","k":0,"u":14.3,"v":27.7},{"id":"h4","k":1,"u":64.3,"v":27.7},
{"id":"v1","k":0,"u":17.1,"v":81.0},{"id":"v1","k":1,"u":17.1,"v":17.4},
{"id":"v2","k":0,"u":22.9,"v":81.0},{"id":"v2","k":1,"u":22.9,"v":17.4},
{"id":"v3","k":0,"u":28.6,"v":81.0},{"id":"v3","k":1,"u":28.6,"v":17.4},
{"id":"v4","k":0,"u":46.2,"v":81.0},{"id":"v4","k":1,"u":46.2,"v":17.4},
{"id":"v5","k":0,"u":59.1,"v":81.0},{"id":"v5","k":1,"u":59.1,"v":17.4},
{"id":"tr","k":0,"u":55.1,"v":78.3},{"id":"tr","k":1,"u":64.3,"v":76.6}]},
    "mark":{"type":"line","color":"#e6e6e6","strokeWidth":0.7},
    "encoding":{"x":{"field":"u","type":"quantitative","scale":{"domain":[-27.43,28.57],"nice":false,"zero":false},"axis":null},"y":{"field":"v","type":"quantitative","scale":{"domain":[0,93.5],"nice":false,"zero":false},"axis":null},"detail":{"field":"id"},"order":{"field":"k"}}},
   {"data":{"values":[
{"id":"a1","k":0,"u":14.3,"v":52.3},{"id":"a1","k":1,"u":64.3,"v":52.3},
{"id":"a2","k":0,"u":34.8,"v":78.3},{"id":"a2","k":1,"u":34.8,"v":17.6},
{"id":"a3","k":0,"u":34.8,"v":17.6},{"id":"a3","k":1,"u":40.9,"v":10.3},
{"id":"a4","k":0,"u":16.2,"v":15.8},{"id":"a4","k":1,"u":34.8,"v":17.6},
{"id":"a5","k":0,"u":34.8,"v":17.6},{"id":"a5","k":1,"u":52.9,"v":25.7},
{"id":"a6","k":0,"u":52.9,"v":78.3},{"id":"a6","k":1,"u":52.9,"v":25.7}]},
    "mark":{"type":"line","color":"#b8b8b8","strokeWidth":0.9},
    "encoding":{"x":{"field":"u","type":"quantitative","axis":null},"y":{"field":"v","type":"quantitative","axis":null},"detail":{"field":"id"},"order":{"field":"k"}}},
   {"data":{"values":[{"t":"40","u":8.3,"v":77.7},{"t":"20","u":8.3,"v":64.7},{"t":"0","u":8.3,"v":52.3},{"t":"−20","u":8.3,"v":40.1},{"t":"−40","u":8.3,"v":27.6}]},
    "mark":{"type":"text","align":"right","baseline":"middle","fontSize":8,"font":"Open Sans","color":"#444"},
    "encoding":{"x":{"field":"u","type":"quantitative","axis":null},"y":{"field":"v","type":"quantitative","axis":null},"text":{"field":"t"}}},
   {"data":{"values":[{"t":"−40","u":12.3,"v":16.2},{"t":"20","u":13.4,"v":12.4},{"t":"40","u":13.4,"v":8.6}]},
    "mark":{"type":"text","align":"right","baseline":"middle","fontSize":6.5,"font":"Open Sans","color":"#444"},
    "encoding":{"x":{"field":"u","type":"quantitative","axis":null},"y":{"field":"v","type":"quantitative","axis":null},"text":{"field":"t"}}},
   {"data":{"values":[{"t":"60","u":19.5,"v":6.7},{"t":"40","u":27.1,"v":7.1},{"t":"20","u":34.8,"v":7.6},{"t":"0","u":42.4,"v":8.9},{"t":"−20","u":50.0,"v":8.9},{"t":"−40","u":56.7,"v":8.5},{"t":"−60","u":64.8,"v":8.5}]},
    "mark":{"type":"text","align":"center","baseline":"middle","fontSize":8,"font":"Open Sans","color":"#444","angle":35},
    "encoding":{"x":{"field":"u","type":"quantitative","axis":null},"y":{"field":"v","type":"quantitative","axis":null},"text":{"field":"t"}}},
   {"data":{"values":[{"t":"PC3","u":3.7,"v":52.2},{"t":"PC2","u":3.7,"v":11.4},{"t":"PC1","u":44.8,"v":5.4}]},
    "mark":{"type":"text","align":"center","baseline":"middle","fontSize":10,"font":"Open Sans","color":"#444"},
    "encoding":{"x":{"field":"u","type":"quantitative","axis":null},"y":{"field":"v","type":"quantitative","axis":null},"text":{"field":"t"}}},
   {"data":{"values":[
{"g":"EHS","u":30.0,"v":72.8},{"g":"EHS","u":39.1,"v":63.8},{"g":"EHS","u":53.6,"v":62.5},{"g":"EHS","u":17.6,"v":55.6},{"g":"EHS","u":28.3,"v":56.9},{"g":"EHS","u":61.8,"v":13.4},
{"g":"CTRL","u":51.7,"v":93.1},{"g":"CTRL","u":56.5,"v":67.8},{"g":"CTRL","u":42.2,"v":57.4},{"g":"CTRL","u":24.5,"v":52.0},{"g":"CTRL","u":27.4,"v":43.5},{"g":"CTRL","u":36.0,"v":33.9},
{"g":"CWI","u":32.1,"v":56.1},{"g":"CWI","u":33.6,"v":51.6},{"g":"CWI","u":39.5,"v":53.1},{"g":"CWI","u":32.9,"v":42.8},{"g":"CWI","u":34.0,"v":39.5},{"g":"CWI","u":39.4,"v":23.2}]},
    "mark":{"type":"point","filled":true,"size":60,"opacity":0.85},
    "encoding":{"x":{"field":"u","type":"quantitative","axis":null},"y":{"field":"v","type":"quantitative","axis":null},
     "color":{"field":"g","type":"nominal","scale":{"domain":["CTRL","EHS","CWI"],"range":["#FF2E2E","#2B2BFF","#FFAA33"]},"legend":{"title":null,"orient":"none","legendX":334.8,"legendY":-23.3,"symbolSize":55,"labelFontSize":8.5,"labelColor":"#333","labelOffset":2,"rowPadding":0.5,"padding":0,"symbolOpacity":1,"symbolStrokeWidth":0}},
     "shape":{"field":"g","type":"nominal","scale":{"domain":["CTRL","EHS","CWI"],"range":["circle","square","circle"]}}}}
  ]}
]
}
